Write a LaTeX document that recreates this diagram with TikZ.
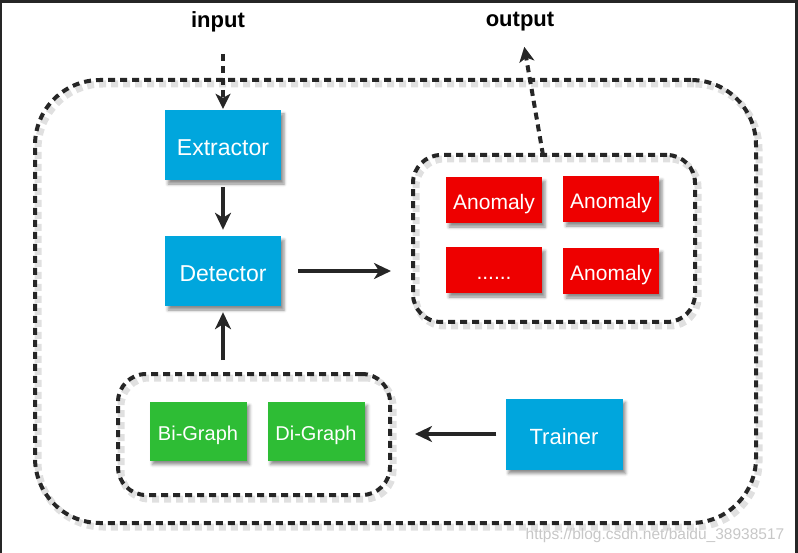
\documentclass[tikz,border=0pt]{standalone}
\usepackage{fontspec}
\setmainfont{Liberation Sans}
\usetikzlibrary{arrows.meta,shadows.blur}
\definecolor{cblue}{HTML}{00A6DD}
\definecolor{cred}{HTML}{EE0000}
\definecolor{cgreen}{HTML}{2EBD35}

\begin{document}
\begin{tikzpicture}[x=1pt,y=-1pt,
	box/.style={inner sep=0pt,text=white,text depth=0pt,blur shadow={shadow xshift=3pt,shadow yshift=-4pt,shadow blur radius=3pt,shadow opacity=45}},
	mainbox/.style={box,fill=cblue,minimum width=116pt,minimum height=70pt,text height=20.5pt,font=\fontsize{23}{26}\selectfont},
	anobox/.style={box,fill=cred,minimum width=96pt,minimum height=46pt,text height=18.5pt,font=\fontsize{21}{24}\selectfont},
	graphbox/.style={box,fill=cgreen,minimum width=97pt,minimum height=59pt,text height=19pt,font=\fontsize{20}{23}\selectfont},
	lbl/.style={font=\bfseries\fontsize{22}{24}\selectfont},
	group/.style={draw=black!85,line width=4pt,dash pattern=on 7pt off 5pt,rounded corners=28pt,
		preaction={draw=black,opacity=0.12,line width=7pt,transform canvas={xshift=3pt,yshift=-4pt}}},
	flow/.style={draw=black!85,line width=4pt,-{Stealth[length=17pt,width=16pt,inset=5pt]}},
	dflow/.style={flow,line width=4pt,dash pattern=on 7pt off 5pt,-{Stealth[length=15pt,width=15pt,inset=4pt]}}]
	\useasboundingbox (0,0) rectangle (798,553);
	\fill[black!85] (0,0) rectangle (798,3);
	\fill[black!85] (0,0) rectangle (2,553);
	\fill[black!85] (795,0) rectangle (798,553);
	\node[group,rounded corners=65pt,minimum width=721pt,minimum height=443pt] (outer) at (395.5,301.5) {};
	\node[group,minimum width=282pt,minimum height=167pt] (anogrp) at (554,238.5) {};
	\node[group,minimum width=272pt,minimum height=121pt] (graphgrp) at (254,434.5) {};
	\node[lbl] (input) at (218,22) {input};
	\node[lbl] (output) at (520,22) {output};
	\node[mainbox] (extractor) at (223,145) {Extractor};
	\node[mainbox] (detector) at (223,271) {Detector};
	\node[mainbox,minimum width=117pt,minimum height=71pt,font=\fontsize{22}{25}\selectfont] (trainer) at (564,434) {Trainer};
	\node[anobox] (ano1) at (494,200) {Anomaly};
	\node[anobox] (ano2) at (611,199) {Anomaly};
	\node[anobox] (ano3) at (494,270) {......};
	\node[anobox] (ano4) at (611,271) {Anomaly};
	\node[graphbox] (bigraph) at (198,431) {Bi-Graph};
	\node[graphbox] (digraph) at (316,431) {Di-Graph};
	\coordinate (outtail) at (543,155);
	\draw[dflow,shorten <=18pt,shorten >=1pt] (extractor |- input.south) -- (extractor.north);
	\draw[dflow,shorten >=12pt] (outtail) -- (output);
	\draw[flow,shorten <=7pt,shorten >=6pt] (extractor) -- (detector);
	\draw[flow,shorten <=17pt,shorten >=20pt] (detector.east) -- (detector -| anogrp.west);
	\draw[flow,shorten <=12pt,shorten >=6pt] (detector |- graphgrp.north) -- (detector.south);
	\draw[flow,shorten <=9pt,shorten >=23pt] (trainer.west) -- (trainer -| graphgrp.east);
	\node[text=black!22,font=\fontsize{15.5}{18}\selectfont] (mark) at (655,535) {https://blog.csdn.net/baidu\_38938517};
\end{tikzpicture}
\end{document}
